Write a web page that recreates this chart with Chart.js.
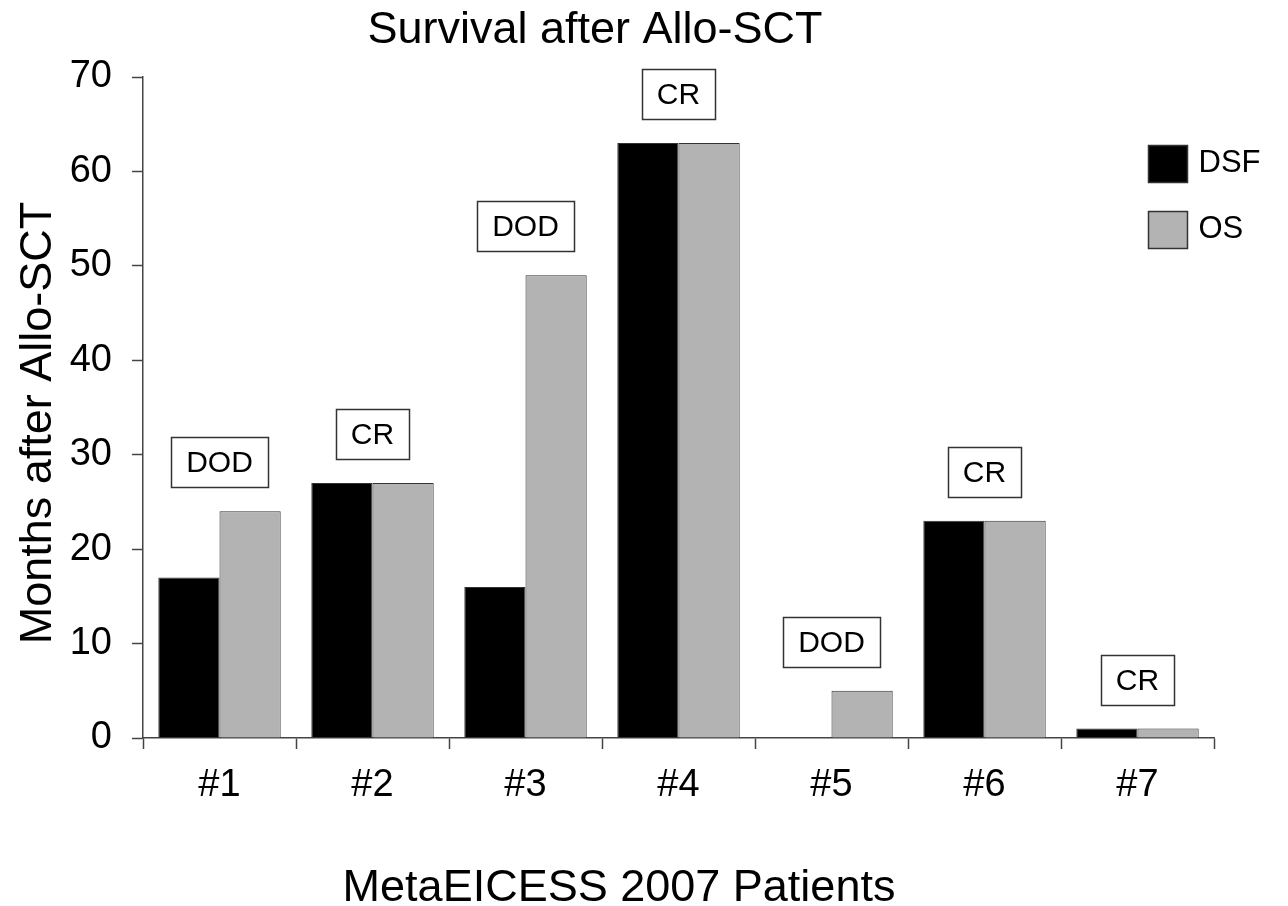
<!DOCTYPE html>
<html><head><meta charset="utf-8">
<script src="https://cdn.jsdelivr.net/npm/chart.js@4/dist/chart.umd.min.js"></script>
<style>html,body{margin:0;padding:0;background:#fff;overflow:hidden}#wrap{width:1288px;height:906px}</style>
</head><body><div id="wrap"><canvas id="c" width="1288" height="906"></canvas></div>
<script>
const chartTitle = 'Survival after Allo-SCT';
const xAxisTitle = 'MetaEICESS 2007 Patients';
const yAxisTitle = 'Months after Allo-SCT';
const categories = ['#1', '#2', '#3', '#4', '#5', '#6', '#7'];
const seriesNames = ['DSF', 'OS'];
const dsfValues = [17, 27, 16, 63, 0, 23, 1];
const osValues = [24, 27, 49, 63, 5, 23, 1];
const statusLabels = ['DOD', 'CR', 'DOD', 'CR', 'DOD', 'CR', 'CR'];
const yMin = 0, yMax = 70, yStep = 10;

const FONT = '"Liberation Sans", Arial, Helvetica, sans-serif';
const AXIS = '#444';

const statusBoxes = {
  id: 'statusBoxes',
  afterDatasetsDraw(chart) {
    const {ctx, scales: {x, y}} = chart;
    ctx.save();
    ctx.font = '30px ' + FONT;
    ctx.textAlign = 'center';
    ctx.textBaseline = 'middle';
    statusLabels.forEach((lab, i) => {
      const cx = x.getPixelForValue(i);
      const top = y.getPixelForValue(Math.max(dsfValues[i], osValues[i]));
      const w = Math.round(ctx.measureText(lab).width + 30);
      const h = 50;
      const bx = Math.round(cx - w / 2) + 0.5;
      const by = Math.round(top - 24 - h) + 0.5;
      ctx.fillStyle = '#fff';
      ctx.fillRect(bx, by, w, h);
      ctx.lineWidth = 1.5;
      ctx.strokeStyle = '#333';
      ctx.strokeRect(bx, by, w, h);
      ctx.fillStyle = '#000';
      ctx.fillText(lab, cx, by + h / 2 + 1);
    });
    ctx.restore();
  }
};

const sideLegend = {
  id: 'sideLegend',
  afterDraw(chart) {
    const {ctx, chartArea} = chart;
    ctx.save();
    ctx.font = '31px ' + FONT;
    ctx.textAlign = 'left';
    ctx.textBaseline = 'middle';
    chart.data.datasets.forEach((ds, i) => {
      const bx = chartArea.right - 66 + 0.5;
      const by = chartArea.top + 68 + i * 66 + 0.5;
      ctx.fillStyle = ds.backgroundColor;
      ctx.fillRect(bx, by, 39, 37);
      ctx.lineWidth = 1.5;
      ctx.strokeStyle = '#333';
      ctx.strokeRect(bx, by, 39, 37);
      ctx.fillStyle = '#000';
      ctx.fillText(ds.label, bx + 50, by + 18);
    });
    ctx.restore();
  }
};

const titles = {
  id: 'titles',
  afterDraw(chart) {
    const {ctx} = chart;
    ctx.save();
    ctx.fillStyle = '#000';
    ctx.textAlign = 'center';
    ctx.textBaseline = 'alphabetic';
    ctx.font = '45px ' + FONT;
    ctx.fillText(chartTitle, 595, 43);
    ctx.font = '45px ' + FONT;
    ctx.fillText(xAxisTitle, 619, 901);
    ctx.translate(51, 423);
    ctx.rotate(-Math.PI / 2);
    ctx.fillText(yAxisTitle, 0, 0);
    ctx.restore();
  }
};

new Chart(document.getElementById('c'), {
  type: 'bar',
  data: {
    labels: categories,
    datasets: [
      {label: seriesNames[0], data: dsfValues, backgroundColor: '#000000', borderColor: '#333', borderWidth: 1,
       categoryPercentage: 0.8, barPercentage: 1.0},
      {label: seriesNames[1], data: osValues, backgroundColor: '#b3b3b3', borderColor: '#333', borderWidth: 1,
       categoryPercentage: 0.8, barPercentage: 1.0}
    ]
  },
  options: {
    responsive: false,
    animation: false,
    devicePixelRatio: 1,
    layout: {padding: {top: 77, right: 74, left: 0, bottom: 0}},
    plugins: {legend: {display: false}, title: {display: false}, tooltip: {enabled: false}},
    scales: {
      x: {
        grid: {display: true, drawOnChartArea: false, drawTicks: true, tickLength: 11, tickColor: AXIS, tickWidth: 1.5, offset: true},
        border: {display: true, color: AXIS, width: 1.5},
        ticks: {font: {size: 38, family: FONT}, color: '#000', padding: 14},
        afterFit(s) { s.height = 168; }
      },
      y: {
        min: yMin, max: yMax,
        grid: {display: true, drawOnChartArea: false, drawTicks: true, tickLength: 11, tickColor: AXIS, tickWidth: 1.5},
        border: {display: true, color: AXIS, width: 1.5},
        ticks: {stepSize: yStep, font: {size: 38, family: FONT}, color: '#000', padding: 20},
        afterFit(s) { s.width = 143; }
      }
    }
  },
  plugins: [statusBoxes, sideLegend, titles]
});
</script>
</body></html>
